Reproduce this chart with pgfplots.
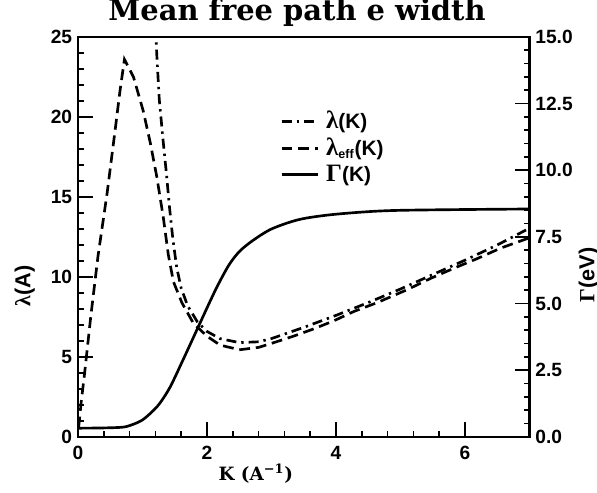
\documentclass[border=0pt]{standalone}
\usepackage{fontspec}
\setmainfont{Liberation Sans}
\newfontfamily\serifbf{Liberation Serif}
\newfontfamily\slabbf{DejaVu Serif}
\usepackage{graphicx}
\usepackage{pgfplots}
\pgfplotsset{compat=1.18}

\pgfplotstableread{
K lam
1.19 27
1.22 24
1.26 21.1
1.32 18.5
1.37 16.5
1.42 14.3
1.47 12.4
1.53 10.6
1.60 9.3
1.70 8.2
1.85 7.2
2.00 6.6
2.20 6.15
2.50 5.9
2.80 5.95
3.00 6.15
3.50 6.85
4.00 7.6
4.50 8.4
5.00 9.25
5.50 10.15
6.00 11.05
6.50 12.0
7.00 13.05
}\lamtable

\pgfplotstableread{
K lameff
0.01 0.6
0.05 2.2
0.10 3.9
0.20 7.6
0.31 11.3
0.45 15.2
0.57 19.0
0.65 21.6
0.72 23.6
0.86 22.5
1.01 20.4
1.12 18.4
1.22 16.3
1.32 13.8
1.40 11.4
1.48 9.7
1.61 8.4
1.79 7.1
2.00 6.3
2.20 5.75
2.50 5.45
2.80 5.6
3.00 5.85
3.34 6.3
3.65 6.75
3.96 7.25
4.28 7.85
4.64 8.4
5.10 9.2
5.46 9.9
5.83 10.55
6.19 11.15
6.55 11.8
7.00 12.45
}\lameftable

\pgfplotstableread{
K gamma
0.00 0.33
0.40 0.34
0.70 0.37
0.85 0.47
1.00 0.64
1.15 0.95
1.27 1.27
1.43 1.88
1.63 2.9
1.84 4.0
2.05 5.1
2.17 5.7
2.34 6.45
2.50 6.95
2.70 7.35
3.00 7.8
3.42 8.15
3.90 8.33
4.50 8.45
5.00 8.5
6.00 8.53
7.00 8.55
}\gammatable

\pgfplotsset{
  frame/.style={
    at={(0pt,0pt)}, anchor=south west,
    scale only axis, width=270.9pt, height=240pt,
    xmin=0, xmax=7,
    axis line style={line width=1.3pt},
    tick align=inside,
    major tick length=9pt, minor tick length=3.5pt,
    every tick/.style={black, line width=1pt},
    tick label style={font=\fontsize{11.5}{13}\selectfont\bfseries},
    /pgf/number format/assume math mode=true,
  },
  dashdotline/.style={black, line width=1.6pt, dash pattern=on 6pt off 3pt on 1.4pt off 3pt},
  dashline/.style={black, line width=1.6pt, dash pattern=on 6.5pt off 3.5pt},
  solidline/.style={black, line width=1.6pt},
}

\begin{document}
\begin{tikzpicture}
\useasboundingbox (-46.8pt,-33.6pt) rectangle (311.4pt,262.2pt);
\begin{axis}[
  frame,
  ymin=0, ymax=25,
  xtick={0,2,4,6}, minor x tick num=4,
  ytick={0,5,10,15,20,25}, minor y tick num=4,
  xtick pos=bottom, ytick pos=left,
  xticklabel style={yshift=-2pt},
  xlabel={\slabbf\bfseries\fontsize{11}{13}\selectfont K (A\textsuperscript{−1})},
  xlabel style={at={(axis description cs:0.394,0)}, anchor=center, yshift=-22pt},
  ylabel={\fontsize{13}{14}\selectfont\bfseries{\serifbf λ}(A)},
  ylabel style={at={(axis description cs:0,0.378)}, anchor=center, yshift=32pt},
  legend style={draw=none, fill=none, at={(axis description cs:0.436,0.83)}, anchor=north west,
    font=\fontsize{12.5}{13}\selectfont\bfseries, row sep=1.2pt,
    nodes={inner sep=1.5pt}},
  legend cell align=left,
  legend image code/.code={\draw[#1] (0pt,0pt) -- (21.6pt,0pt); \path (24.5pt,0pt);},
]
\addplot[dashdotline] table[x=K, y=lam] {\lamtable};
\addlegendentry{{\serifbf\fontsize{15}{15}\selectfont λ}(K)}
\addplot[dashline] table[x=K, y=lameff] {\lameftable};
\addlegendentry{{\serifbf\fontsize{15}{15}\selectfont λ}\textsubscript{\fontsize{7.5}{8}\selectfont eff}(K)}
\addlegendimage{solidline}
\addlegendentry{{\serifbf\fontsize{15}{15}\selectfont Γ}(K)}
\end{axis}
\begin{axis}[
  frame,
  ymin=0, ymax=15,
  axis x line=none, axis y line*=right,
  ytick={0,2.5,5,7.5,10,12.5,15}, minor y tick num=4,
  yticklabel style={/pgf/number format/.cd, fixed, fixed zerofill, precision=1},
  ylabel={\fontsize{13}{14}\selectfont\bfseries{\serifbf Γ}(eV)},
  ylabel style={at={(axis description cs:1,0.405)}, anchor=center, yshift=-35.5pt},
]
\addplot[solidline, smooth] table[x=K, y=gamma] {\gammatable};
\end{axis}
% chart title above the frame
\node[anchor=center, inner sep=0pt] at (131.4pt,254.6pt)
  {\scalebox{1.12}{\slabbf\bfseries\fontsize{15.5}{18}\selectfont Mean free path e width}};
\end{tikzpicture}
\end{document}
